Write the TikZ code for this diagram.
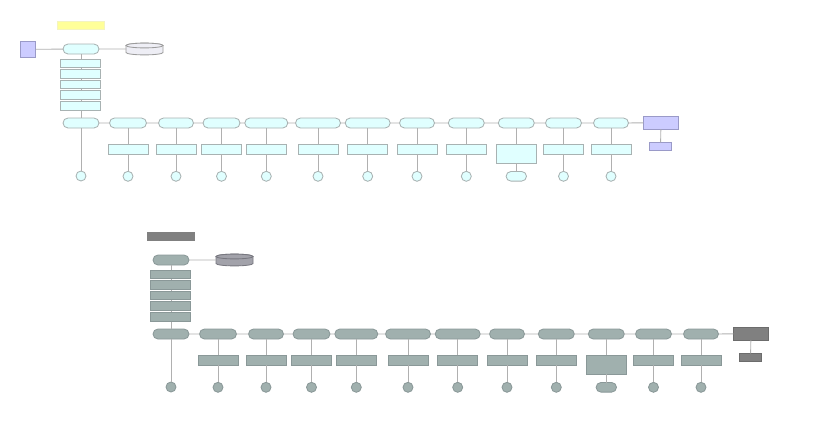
\documentclass[tikz,border=0pt]{standalone}
\usetikzlibrary{positioning,shapes.misc}
\definecolor{lightfill}{HTML}{E0FFFF}
\definecolor{lightline}{HTML}{A8B2B2}
\definecolor{slatefill}{HTML}{A0B0AE}
\definecolor{slateline}{HTML}{8A9898}
\definecolor{bluefill}{HTML}{CCCCFF}
\definecolor{blueline}{HTML}{9A9AC8}
\definecolor{darkfill}{HTML}{808080}
\definecolor{darkline}{HTML}{6C6C6C}
\definecolor{yellowfill}{HTML}{FFFF99}
\definecolor{yellowline}{HTML}{F4F4C0}
\definecolor{drumlight}{HTML}{EEEEF5}
\definecolor{drumdark}{HTML}{A2A2AA}
\definecolor{drumline}{HTML}{9C9C9C}
\definecolor{drumdarkline}{HTML}{787880}
\definecolor{linkgray}{HTML}{B0B0B0}

\begin{document}
\begin{tikzpicture}[x=0.25mm,y=-0.25mm,
 every node/.style={inner sep=0pt,outer sep=0pt,line width=0.6pt},
 link/.style={draw=linkgray,line width=0.6pt},
 pill/.style={rounded rectangle,draw=\bd,fill=\fl,minimum height=2.5mm},
 slab/.style={rectangle,draw=\bd,fill=\fl,minimum width=10mm},
 stackbox/.style={rectangle,draw=\bd,fill=\fl,minimum width=10mm,minimum height=2.15mm},
 dot/.style={circle,draw=\bd,fill=\fl,minimum size=2.5mm},
 endpill/.style={rounded rectangle,draw=\bd,fill=\fl,minimum width=5.1mm,minimum height=2.4mm},
 accent/.style={rectangle,draw=\acb,fill=\ac},
 header/.style={rectangle,draw=\hdb,fill=\hd,minimum width=11.75mm,minimum height=2mm},
 drum/.style={rectangle,minimum width=9.25mm,minimum height=3mm},
 drumskin/.style={draw=\cyb,fill=\cy,line width=0.6pt}]
\useasboundingbox (0,0) rectangle (813,430);

\foreach \d/\sx/\sy/\fl/\bd/\ac/\acb/\hd/\hdb/\cy/\cyb in {
  t/0/0/lightfill/lightline/bluefill/blueline/yellowfill/yellowline/drumlight/drumline,
  b/90/211/slatefill/slateline/darkfill/darkline/darkfill/darkfill/drumdark/drumdarkline}{
 \begin{scope}[shift={(\sx,\sy)}]
 \node[header] (hd\d) at (80.5,25) {};
 \node[pill,minimum width=9mm] (top\d) at (81,49) {};
 \node[drum] (db\d) at (144.5,49) {};
 \draw[drumskin] (db\d.center) ++(-18.5,-3.5) -- ++(0,7)
   arc[start angle=180,end angle=360,x radius=4.625mm,y radius=0.6mm]
   -- ++(0,-7) arc[start angle=0,end angle=180,x radius=4.625mm,y radius=0.6mm];
 \draw[drumskin] (db\d.center) ++(0,-3.5) ellipse[x radius=4.625mm,y radius=0.6mm];
 \draw[link] (top\d) -- (db\d);
 % first column
 \node[pill,minimum width=9mm] (p\d0) at (81,123) {};
 \node[dot] (c\d0) at (81,176) {};
 \draw[link] (top\d) -- (p\d0) -- (c\d0);
 \foreach \k in {1,...,5}
   \node[stackbox] (s\d\k) at (80.6,{52.7+10.6*\k}) {};
 % row of steps
 \foreach \i/\px/\pw/\bh/\bt [remember=\i as \j (initially 0)] in {
   1/128/37/10/dot, 2/176/35/10/dot, 3/221.5/37/10/dot, 4/266.3/43/10/dot,
   5/318/45/10/dot, 6/367.7/45/10/dot, 7/417/35/10/dot, 8/466.3/36/10/dot,
   9/516.3/36/19/endpill, 10/563.5/36/10/dot, 11/611/35/10/dot}{
   \node[pill,minimum width=\pw*0.25mm] (p\d\i) at (\px,123) {};
   \node[slab,minimum height=\bh*0.25mm] (r\d\i) at (\px,{144.3+\bh/2}) {};
   \node[\bt] (c\d\i) at (\px,176.3) {};
   \draw[link] (p\d\j) -- (p\d\i);
   \draw[link] (p\d\i) -- (r\d\i) -- (c\d\i);}
 \node[accent,minimum width=8.85mm,minimum height=3.25mm] (en\d) at (661,122.8) {};
 \node[accent,minimum width=5.6mm,minimum height=2mm] (es\d) at (660.5,146.3) {};
 \draw[link] (p\d11) -- (en\d) -- (es\d);
 \end{scope}}
% input square of the upper chart
\node[rectangle,draw=blueline,fill=bluefill,minimum width=3.7mm,minimum height=4.15mm] (src) at (28.3,49.3) {};
\draw[link] (src) -- (topt);
\end{tikzpicture}
\end{document}
